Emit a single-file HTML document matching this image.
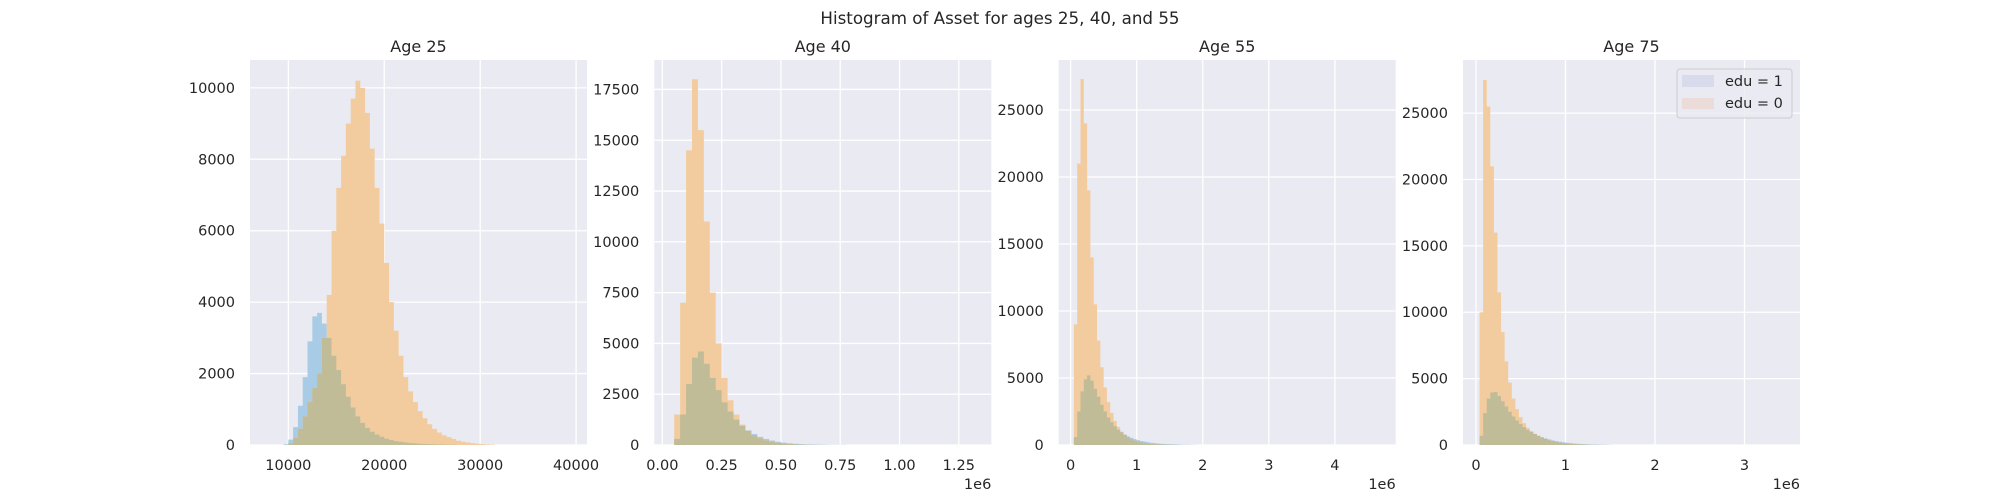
<!DOCTYPE html>
<html><head><meta charset="utf-8">
<style>
body{margin:0;background:#fff;}
svg{display:block;font-family:"DejaVu Sans","Liberation Sans",sans-serif;}
</style></head>
<body>
<svg id="fig" width="2000" height="500" viewBox="0 0 2000 500" xmlns="http://www.w3.org/2000/svg">
<text x="1000" y="24" text-anchor="middle" font-size="16.7" fill="#262626">Histogram of Asset for ages 25, 40, and 55</text>
</svg>
<script>
// ---- Age 25 ----
const a25Start = 9500, a25Width = 500;
const a25Edu1 = [20,150,500,1100,1900,2900,3600,3700,3400,3000,2500,2100,1700,1350,1050,800,620,480,370,290,230,180,140,110,90,70,55,45,35,28,22,17,13,10,8,6];
const a25Edu0 = [0,50,200,450,800,1200,1600,2000,3000,4200,6000,7200,8100,9000,9700,10200,10000,9300,8300,7200,6200,5100,4000,3200,2500,1900,1500,1200,950,750,580,450,350,270,220,170,120,90,70,50,35,25,15,10];
const a25XTicks = [10000,20000,30000,40000];
const a25XLabels = ["10000","20000","30000","40000"];
const a25YTicks = [0,2000,4000,6000,8000,10000];
// ---- Age 40 ----
const a40Start = 0.05, a40Width = 0.025;
const a40Edu1 = [300,1500,3000,4300,4600,4000,3300,2700,2100,1650,1250,950,720,540,400,300,220,160,115,85,60,45,32,24,17,12,8,6,4];
const a40Edu0 = [1500,7000,14500,18000,15500,11000,7500,5000,3300,2200,1500,1000,700,480,330,230,160,110,70,40,25,15,10];
const a40XTicks = [0,0.25,0.5,0.75,1.0,1.25];
const a40XLabels = ["0.00","0.25","0.50","0.75","1.00","1.25"];
const a40YTicks = [0,2500,5000,7500,10000,12500,15000,17500];
// ---- Age 55 ----
const a55Start = 0.05, a55Width = 0.05;
const a55Edu1 = [600,2500,4000,4900,5200,4800,4200,3600,3000,2500,2050,1700,1400,1150,950,780,640,530,440,360,300,250,205,170,140,115,95,78,64,52,42,34,27,22,17,13,10];
const a55Edu0 = [9000,21000,27300,24000,19000,14000,10500,7800,5800,4300,3200,2400,1800,1350,1000,760,580,440,330,250,190,145,110,85,65,50,38,28,20,14];
const a55XTicks = [0,1,2,3,4];
const a55XLabels = ["0","1","2","3","4"];
const a55YTicks = [0,5000,10000,15000,20000,25000];
// ---- Age 75 ----
const a75Start = 0.04, a75Width = 0.04;
const a75Edu1 = [700,2400,3500,3950,4000,3700,3300,2900,2500,2150,1850,1580,1350,1150,980,830,700,590,500,420,350,295,245,205,170,140,115,95,78,63,51,41,33,26,20,15,11];
const a75Edu0 = [10000,27500,25500,21000,16000,11500,8500,6300,4700,3500,2700,2100,1650,1300,1050,850,690,560,450,360,290,230,180,140,110,85,65,50,38,28,20,14];
const a75XTicks = [0,1,2,3];
const a75XLabels = ["0","1","2","3"];
const a75YTicks = [0,5000,10000,15000,20000,25000];

const NS = "http://www.w3.org/2000/svg";
const svg = document.getElementById('fig');
function mk(tag, attrs, parent){const e=document.createElementNS(NS,tag);for(const k in attrs)e.setAttribute(k,attrs[k]);(parent||svg).appendChild(e);return e;}

const panels = [
 {key:'age-25',title:'Age 25',left:250,xmin:6003,xmax:41137,ymax:10780,start:a25Start,w:a25Width,e1:a25Edu1,e0:a25Edu0,xt:a25XTicks,xl:a25XLabels,yt:a25YTicks,offset:false},
 {key:'age-40',title:'Age 40',left:654.3,xmin:-0.034,xmax:1.387,ymax:18950,start:a40Start,w:a40Width,e1:a40Edu1,e0:a40Edu0,xt:a40XTicks,xl:a40XLabels,yt:a40YTicks,offset:true},
 {key:'age-55',title:'Age 55',left:1058.7,xmin:-0.18,xmax:4.92,ymax:28730,start:a55Start,w:a55Width,e1:a55Edu1,e0:a55Edu0,xt:a55XTicks,xl:a55XLabels,yt:a55YTicks,offset:true},
 {key:'age-75',title:'Age 75',left:1463,xmin:-0.145,xmax:3.62,ymax:29000,start:a75Start,w:a75Width,e1:a75Edu1,e0:a75Edu0,xt:a75XTicks,xl:a75XLabels,yt:a75YTicks,offset:true}
];
const W=337, TOP=60, BOT=445;

panels.forEach(p=>{
  const g = mk('g',{});
  
  
  const xs = v => p.left + (v-p.xmin)/(p.xmax-p.xmin)*W;
  const ys = v => BOT - v/p.ymax*(BOT-TOP);
  const bg = mk('rect',{x:p.left,y:TOP,width:W,height:BOT-TOP,fill:'#eaeaf2'},g);
  
  
  p.xt.forEach((t,i)=>{
    const x = xs(t);
    mk('line',{x1:x,x2:x,y1:TOP,y2:BOT,stroke:'#fff','stroke-width':1.3},g);
    const tl = mk('text',{x:x,y:470,'text-anchor':'middle','font-size':14.5,fill:'#262626'},g);
    tl.textContent = p.xl[i];
    
    
  });
  p.yt.forEach(t=>{
    const y = ys(t);
    mk('line',{x1:p.left,x2:p.left+W,y1:y,y2:y,stroke:'#fff','stroke-width':1.3},g);
    const tl = mk('text',{x:p.left-15,y:y+5,'text-anchor':'end','font-size':14.5,fill:'#262626'},g);
    tl.textContent = String(t);
    
    
  });
  function hist(arr, color, name){
    let d = 'M'+xs(p.start)+','+ys(0);
    arr.forEach((v,i)=>{
      const x0 = xs(p.start+i*p.w), x1 = xs(p.start+(i+1)*p.w);
      d += ' L'+x0+','+ys(v)+' L'+x1+','+ys(v);
    });
    d += ' L'+xs(p.start+arr.length*p.w)+','+ys(0)+' Z';
    const path = mk('path',{d:d,fill:color},g);
    
    
  }
  const n = Math.max(p.e0.length,p.e1.length);
  const overlap = [];
  for(let i=0;i<n;i++) overlap.push(Math.min(p.e0[i]||0,p.e1[i]||0));
  hist(p.e1,'rgb(168,204,230)',p.key+'-edu1-histogram');
  hist(p.e0,'rgb(242,204,158)',p.key+'-edu0-histogram');
  hist(overlap,'rgb(192,188,152)',p.key+'-overlap-histogram');
  const tt = mk('text',{x:p.left+W/2,y:52,'text-anchor':'middle','font-size':16,fill:'#262626'},g);
  tt.textContent = p.title;
  
  
  if(p.offset){
    const o = mk('text',{x:p.left+W,y:489,'text-anchor':'end','font-size':14.5,fill:'#262626'},g);
    o.textContent = '1e6';
    
    
  }
});

// legend
const lg = mk('g',{});


mk('rect',{x:1677,y:69,width:115,height:49,rx:3,fill:'#eaeaf2','fill-opacity':0.8,stroke:'#cccccc','stroke-width':1},lg);
mk('rect',{x:1682,y:75,width:32,height:12,fill:'#d7dbec'},lg);
mk('rect',{x:1682,y:98,width:32,height:11,fill:'#ecdcd9'},lg);
const l1 = mk('text',{x:1725,y:86,'font-size':14.5,fill:'#262626'},lg);
l1.textContent='edu = 1';


const l0 = mk('text',{x:1725,y:108,'font-size':14.5,fill:'#262626'},lg);
l0.textContent='edu = 0';


</script>
</body></html>
